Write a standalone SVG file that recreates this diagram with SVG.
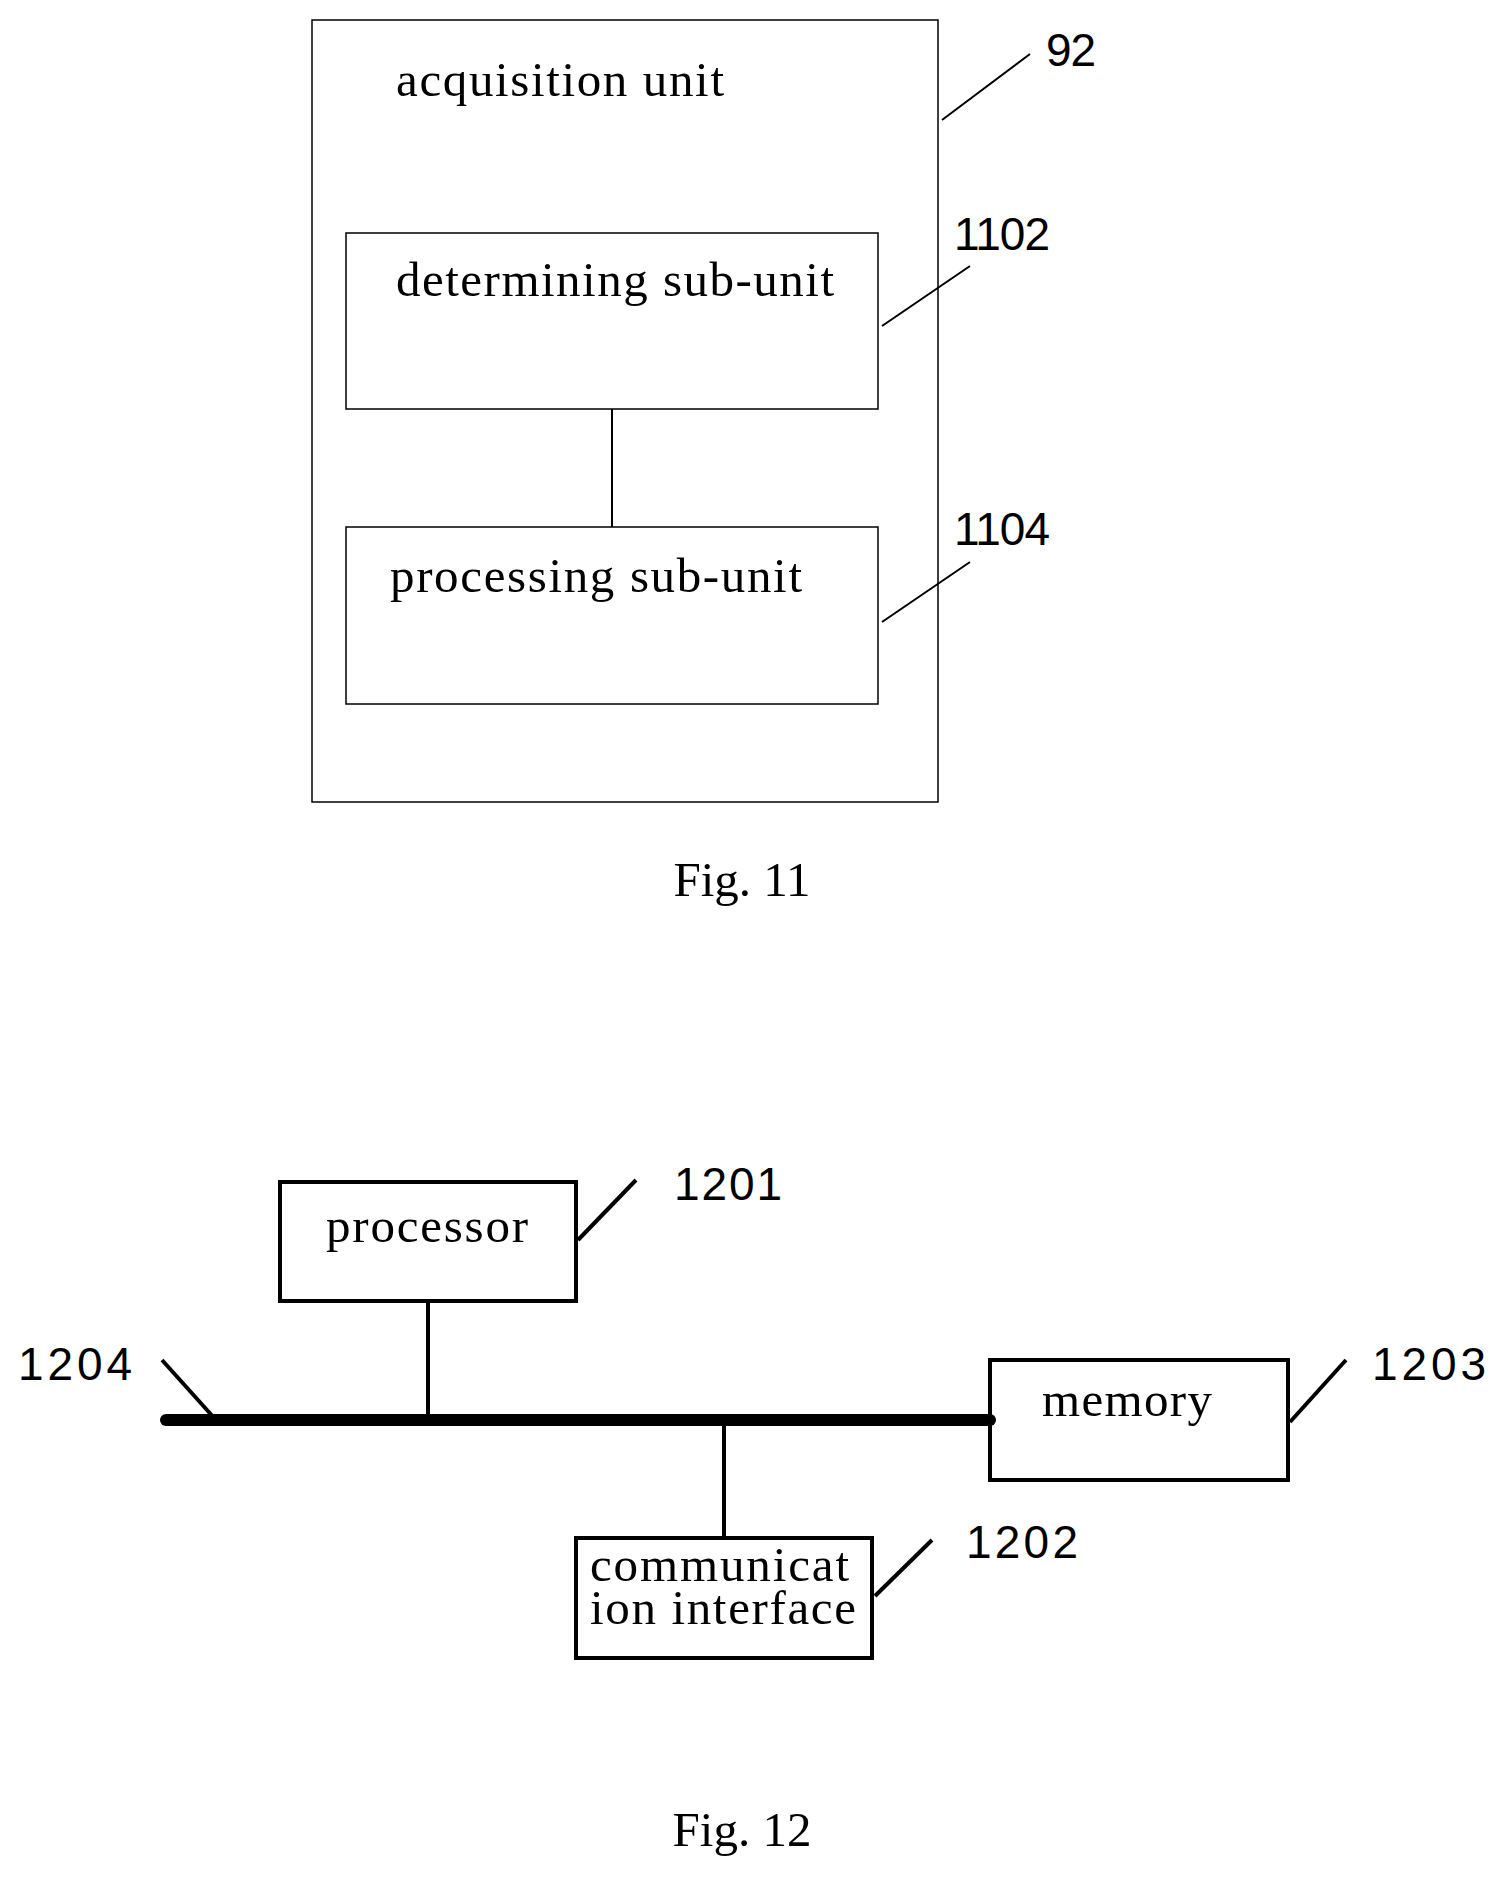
<svg xmlns="http://www.w3.org/2000/svg" width="1500" height="1879" viewBox="0 0 1500 1879">
<style>
.t{font-family:"Liberation Serif",serif;font-size:49px;fill:#000}
.n{font-family:"Liberation Sans",sans-serif;font-size:46px;fill:#000}
.b1{fill:none;stroke:#000;stroke-width:1.5}
.b2{fill:none;stroke:#000;stroke-width:4}
.l1{stroke:#000;stroke-width:2}
.l2{stroke:#000;stroke-width:4}
</style>
<rect width="1500" height="1879" fill="#fff"/>
<g id="acq"><rect class="b1" x="312" y="20" width="626" height="782"/><text class="t" x="396" y="96" textLength="328">acquisition unit</text></g>
<g id="det"><rect class="b1" x="346" y="233" width="532" height="176"/><text class="t" x="396" y="296" textLength="438">determining sub-unit</text></g>
<g id="proc"><rect class="b1" x="346" y="527" width="532" height="177"/><text class="t" x="390" y="592" textLength="412">processing sub-unit</text></g>
<g id="p12"><rect class="b2" x="280" y="1182" width="296" height="119"/><text class="t" x="326" y="1242" textLength="202">processor</text></g>
<g id="mem"><rect class="b2" x="990" y="1360" width="298" height="120"/><text class="t" x="1042" y="1416" textLength="170">memory</text></g>
<g id="comm"><rect class="b2" x="576" y="1538" width="296" height="120"/><text class="t" x="590" y="1581" font-size="42" textLength="259">communicat</text><text class="t" x="590" y="1624" font-size="42" textLength="266">ion interface</text></g>
<g id="connectors">
<line class="l1" x1="612" y1="409" x2="612" y2="527"/>
<line class="l1" x1="942" y1="120" x2="1030" y2="54"/>
<line class="l1" x1="882" y1="326" x2="970" y2="266"/>
<line class="l1" x1="882" y1="622" x2="970" y2="562"/>
<line x1="166" y1="1420" x2="990" y2="1420" stroke="#000" stroke-width="12" stroke-linecap="round"/>
<line class="l2" x1="428" y1="1301" x2="428" y2="1420"/>
<line class="l2" x1="724" y1="1420" x2="724" y2="1538"/>
<line class="l2" x1="578" y1="1240" x2="636" y2="1180"/>
<line class="l2" x1="162" y1="1360" x2="216" y2="1420"/>
<line class="l2" x1="1290" y1="1422" x2="1346" y2="1360"/>
<line class="l2" x1="875" y1="1596" x2="932" y2="1540"/>
</g>
<g id="labels">
<text class="n" x="1046" y="66" textLength="50">92</text>
<text class="n" x="954" y="250" textLength="96">1102</text>
<text class="n" x="954" y="545" textLength="96">1104</text>
<text class="t" x="742" y="896" text-anchor="middle" font-size="58">Fig. 11</text>
<text class="n" x="674" y="1200" font-size="54" textLength="108">1201</text>
<text class="n" x="18" y="1380" font-size="54" textLength="114">1204</text>
<text class="n" x="1372" y="1380" font-size="54" textLength="114">1203</text>
<text class="n" x="966" y="1558" font-size="54" textLength="112">1202</text>
<text class="t" x="742" y="1846" text-anchor="middle" font-size="58">Fig. 12</text>
</g>
</svg>
